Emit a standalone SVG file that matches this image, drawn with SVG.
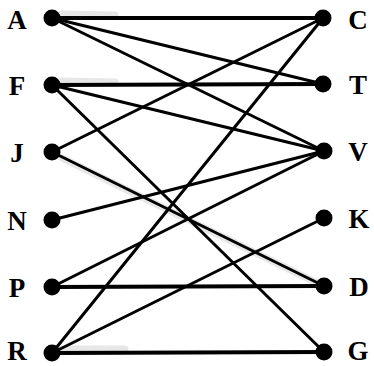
<svg xmlns="http://www.w3.org/2000/svg" width="374" height="366" viewBox="0 0 374 366">
<style>
.e{stroke:#000;stroke-width:3;stroke-linecap:round;fill:none}
.h{stroke-width:4}
.s{stroke:#d0d0d0;stroke-width:7;stroke-linecap:round;fill:none;opacity:0.5}
.n{fill:#000}
.t{font-family:"Liberation Serif","Times New Roman",serif;font-weight:bold;font-size:27px;fill:#000;text-anchor:middle}
</style>
<rect width="374" height="366" fill="#fff"/>
<g id="shading">
<line class="s" x1="62" y1="158" x2="315" y2="282"/>
<line class="s" x1="62" y1="14" x2="115" y2="15"/>
<line class="s" x1="62" y1="81" x2="115" y2="82"/>
<line class="s" x1="62" y1="349" x2="125" y2="349"/>
</g>
<g id="connectors">
<line class="e h" x1="52" y1="18" x2="323" y2="18"/>
<line class="e" x1="52" y1="18" x2="323" y2="84"/>
<line class="e" x1="52" y1="18" x2="324" y2="151"/>
<line class="e h" x1="52" y1="85" x2="323" y2="84"/>
<line class="e" x1="52" y1="85" x2="324" y2="151"/>
<line class="e" x1="52" y1="85" x2="324" y2="352"/>
<line class="e" x1="52" y1="152" x2="323" y2="18"/>
<line class="e" x1="52" y1="152" x2="324" y2="286"/>
<line class="e" x1="52" y1="220" x2="324" y2="151"/>
<line class="e" x1="52" y1="287" x2="324" y2="151"/>
<line class="e h" x1="52" y1="287" x2="324" y2="286"/>
<line class="e" x1="52" y1="353" x2="323" y2="18"/>
<line class="e" x1="52" y1="353" x2="324" y2="218"/>
<line class="e h" x1="52" y1="353" x2="324" y2="352"/>
</g>
<g id="A"><circle class="n" cx="52" cy="18" r="8.5"/><text class="t" x="17" y="29">A</text></g>
<g id="F"><circle class="n" cx="52" cy="85" r="8.5"/><text class="t" x="17" y="95">F</text></g>
<g id="J"><circle class="n" cx="52" cy="152" r="8.5"/><text class="t" x="17" y="162">J</text></g>
<g id="N"><circle class="n" cx="52" cy="220" r="8.5"/><text class="t" x="17" y="230">N</text></g>
<g id="P"><circle class="n" cx="52" cy="287" r="8.5"/><text class="t" x="17" y="297">P</text></g>
<g id="R"><circle class="n" cx="52" cy="353" r="8.5"/><text class="t" x="17" y="360">R</text></g>
<g id="C"><circle class="n" cx="323" cy="18" r="8.5"/><text class="t" x="358" y="29">C</text></g>
<g id="T"><circle class="n" cx="323" cy="84" r="8.5"/><text class="t" x="358" y="94">T</text></g>
<g id="V"><circle class="n" cx="324" cy="151" r="8.5"/><text class="t" x="358" y="161">V</text></g>
<g id="K"><circle class="n" cx="324" cy="218" r="8.5"/><text class="t" x="359" y="228">K</text></g>
<g id="D"><circle class="n" cx="324" cy="286" r="8.5"/><text class="t" x="359" y="296">D</text></g>
<g id="G"><circle class="n" cx="324" cy="352" r="8.5"/><text class="t" x="358" y="360">G</text></g>
</svg>
